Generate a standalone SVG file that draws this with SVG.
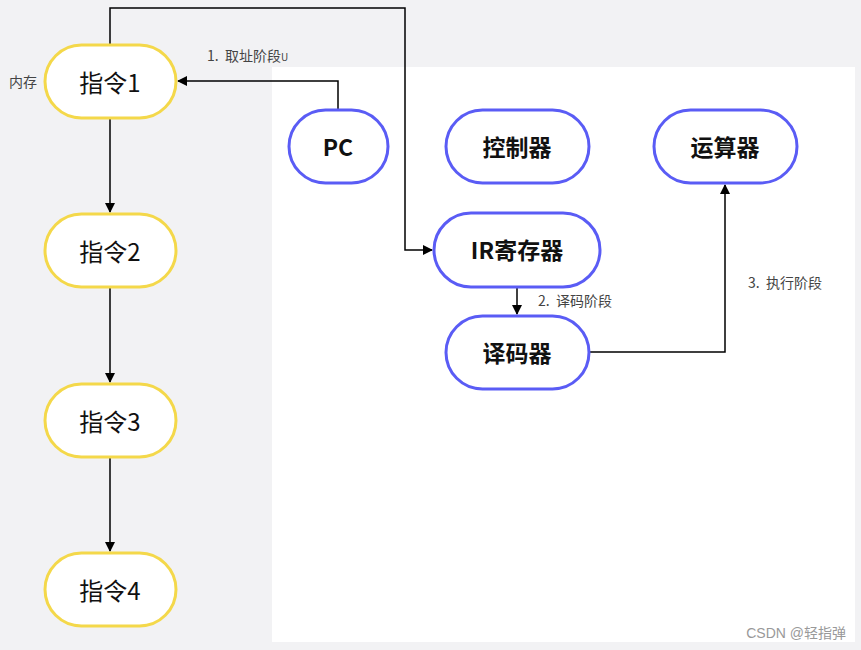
<svg xmlns="http://www.w3.org/2000/svg" width="861" height="650" viewBox="0 0 861 650">
<defs>
<marker id="ah" viewBox="0 0 10 10" refX="9" refY="5" markerWidth="10" markerHeight="10" markerUnits="userSpaceOnUse" orient="auto">
<path d="M0,0 L10,5 L0,10 z" fill="#000"/>
</marker>
<style>
.y{fill:#fff;stroke:#f4d84a;stroke-width:3}
.b{fill:#fff;stroke:#5a5cf5;stroke-width:3}
.t{font-family:"Noto Sans CJK SC","Noto Sans",sans-serif;font-size:24px;fill:#111;text-anchor:middle;dominant-baseline:central}
.tn{font-weight:400}
.tb{font-weight:600;font-size:23px}
.l{font-family:"Noto Sans CJK SC","Noto Sans",sans-serif;font-size:14px;fill:#444;white-space:pre}
.c{fill:none;stroke:#000;stroke-width:1.5}
</style>
</defs>
<rect width="861" height="650" fill="#f2f2f4"/>
<rect x="272" y="67" width="583" height="575" fill="#fff"/>
<g id="connectors">
<path class="c" d="M338,110 V81 H178" marker-end="url(#ah)"/>
<path class="c" d="M110,45 V8 H405 V250 H432" marker-end="url(#ah)"/>
<path class="c" d="M517,288 V314" marker-end="url(#ah)"/>
<path class="c" d="M590,352 H725 V185" marker-end="url(#ah)"/>
<path class="c" d="M110,119 V212" marker-end="url(#ah)"/>
<path class="c" d="M110,288 V382" marker-end="url(#ah)"/>
<path class="c" d="M110,458 V551" marker-end="url(#ah)"/>
</g>
<g id="n1"><rect class="y" x="45" y="45" width="131" height="73" rx="36.5"/><text class="t tn" x="110" y="81">指令1</text></g>
<g id="n2"><rect class="y" x="45" y="214" width="131" height="73" rx="36.5"/><text class="t tn" x="110" y="250">指令2</text></g>
<g id="n3"><rect class="y" x="45" y="384" width="131" height="73" rx="36.5"/><text class="t tn" x="110" y="420">指令3</text></g>
<g id="n4"><rect class="y" x="45" y="553" width="131" height="73" rx="36.5"/><text class="t tn" x="110" y="589">指令4</text></g>
<g id="pc"><rect class="b" x="289" y="110" width="99" height="73" rx="36.5"/><text class="t tb" x="338" y="146">PC</text></g>
<g id="ctrl"><rect class="b" x="446" y="110" width="143" height="73" rx="36.5"/><text class="t tb" x="517" y="146">控制器</text></g>
<g id="alu"><rect class="b" x="654" y="110" width="143" height="73" rx="36.5"/><text class="t tb" x="725" y="146">运算器</text></g>
<g id="ir"><rect class="b" x="434" y="213" width="166" height="74" rx="37"/><text class="t tb" x="517" y="249">IR寄存器</text></g>
<g id="dec"><rect class="b" x="446" y="316" width="143" height="73" rx="36.5"/><text class="t tb" x="517" y="352">译码器</text></g>
<text class="l" x="207" y="61" xml:space="preserve">1.  取址阶段<tspan font-size="10">U</tspan></text>
<text class="l" x="538" y="306" xml:space="preserve">2.  译码阶段</text>
<text class="l" x="748" y="288" xml:space="preserve">3.  执行阶段</text>
<text class="l" x="9" y="87">内存</text>
<text x="846" y="638" font-family="Liberation Sans,'Noto Sans CJK SC',sans-serif" font-size="14" fill="#999" text-anchor="end">CSDN @轻指弹</text>
</svg>
